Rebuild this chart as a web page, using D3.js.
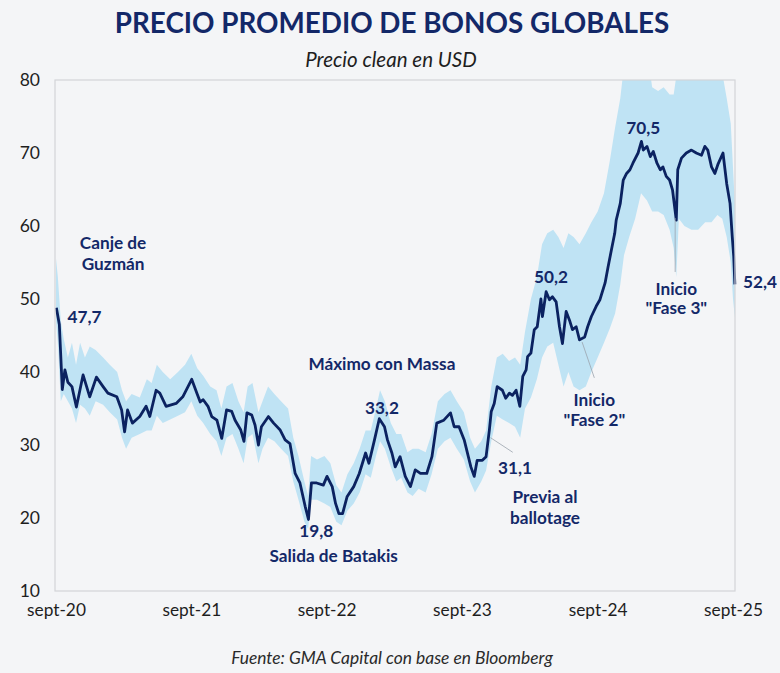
<!DOCTYPE html>
<html>
<head>
<meta charset="utf-8">
<script src="https://cdn.jsdelivr.net/npm/d3@7"></script>
<style>
  body { margin: 0; background: #f4f5f7; font-family: Lato, "Open Sans", sans-serif; }
</style>
</head>
<body>
<div id="container"></div>
<script>
/* CONSTANTS AND GLOBALS */
const width = 780,
  height = 673,
  margin = { top: 80, bottom: 82, left: 55, right: 45 }

const navy = "#132868"

/* DATA */
const fechas = [
  "2020-09-02", "2020-09-10", "2020-09-18", "2020-09-25", "2020-10-03", "2020-10-14", "2020-10-26", "2020-11-13",
  "2020-12-01", "2020-12-19", "2021-01-06", "2021-01-19", "2021-02-12", "2021-02-25", "2021-03-05", "2021-03-13",
  "2021-03-26", "2021-04-15", "2021-05-02", "2021-05-12", "2021-05-29", "2021-06-08", "2021-06-25", "2021-07-22",
  "2021-08-09", "2021-09-02", "2021-09-16", "2021-09-25", "2021-10-03", "2021-10-16", "2021-10-26", "2021-11-09",
  "2021-11-22", "2021-12-05", "2021-12-19", "2021-12-28", "2022-01-12", "2022-01-21", "2022-01-29", "2022-02-11",
  "2022-02-20", "2022-03-01", "2022-03-09", "2022-03-28", "2022-04-11", "2022-04-28", "2022-05-12", "2022-05-25",
  "2022-06-08", "2022-06-21", "2022-07-05", "2022-07-14", "2022-07-22", "2022-08-05", "2022-08-23", "2022-09-02",
  "2022-09-16", "2022-09-25", "2022-10-04", "2022-10-14", "2022-10-26", "2022-11-13", "2022-11-28", "2022-12-15",
  "2022-12-24", "2023-01-08", "2023-01-21", "2023-02-04", "2023-02-12", "2023-02-24", "2023-03-05", "2023-03-18",
  "2023-04-01", "2023-04-15", "2023-04-28", "2023-05-12", "2023-05-29", "2023-06-12", "2023-06-25", "2023-07-14",
  "2023-08-01", "2023-08-11", "2023-08-24", "2023-09-07", "2023-09-25", "2023-10-04", "2023-10-12", "2023-10-26",
  "2023-11-05", "2023-11-14", "2023-11-19", "2023-11-27", "2023-12-05", "2023-12-19", "2023-12-28", "2024-01-07",
  "2024-01-15", "2024-01-25", "2024-02-04", "2024-02-12", "2024-02-21", "2024-02-25", "2024-03-05", "2024-03-14",
  "2024-03-22", "2024-04-01", "2024-04-05", "2024-04-15", "2024-04-24", "2024-05-02", "2024-05-12", "2024-05-21",
  "2024-05-29", "2024-06-08", "2024-06-17", "2024-06-25", "2024-07-05", "2024-07-14", "2024-07-28", "2024-08-05",
  "2024-08-15", "2024-08-28", "2024-09-07", "2024-09-21", "2024-09-29", "2024-10-08", "2024-10-17", "2024-10-21",
  "2024-11-01", "2024-11-09", "2024-11-18", "2024-11-27", "2024-12-05", "2024-12-19", "2024-12-28", "2025-01-02",
  "2025-01-12", "2025-01-21", "2025-01-29", "2025-02-08", "2025-02-17", "2025-02-24", "2025-03-05", "2025-03-14",
  "2025-03-22", "2025-04-01", "2025-04-05", "2025-04-15", "2025-04-28", "2025-05-12", "2025-05-25", "2025-06-08",
  "2025-06-17", "2025-06-25", "2025-07-05", "2025-07-14", "2025-07-22", "2025-08-05", "2025-08-15", "2025-08-24",
  "2025-08-30", "2025-09-03", "2025-09-06"
]

const precio = [
  48.8, 46.5, 37.6, 40.3, 38.6, 38.0, 35.2, 39.6,
  36.6, 39.3, 38.0, 37.1, 36.6, 34.8, 31.8, 34.8,
  33.0, 33.9, 35.3, 33.9, 37.5, 37.1, 35.3, 35.7,
  36.6, 39.0, 37.1, 35.9, 36.2, 35.3, 33.9, 33.4,
  30.9, 34.8, 34.6, 33.4, 32.1, 30.5, 34.4, 34.1,
  32.7, 30.0, 32.5, 33.9, 33.0, 32.1, 30.7, 30.2,
  26.1, 24.8, 21.6, 19.8, 24.8, 24.8, 24.5, 25.7,
  24.3, 22.0, 20.6, 20.6, 22.9, 24.3, 26.1, 28.9,
  27.5, 30.7, 33.6, 32.5, 30.7, 28.9, 27.0, 28.4,
  25.7, 24.3, 26.6, 26.1, 26.1, 28.4, 33.0, 33.4,
  34.4, 32.5, 32.5, 30.7, 27.0, 25.7, 27.9, 27.9,
  28.4, 32.1, 34.6, 35.7, 38.0, 37.5, 36.4, 37.1,
  36.8, 37.5, 35.3, 39.4, 40.3, 42.1, 42.6, 45.8,
  46.2, 50.0, 47.6, 51.0, 49.9, 50.3, 49.6, 46.2,
  43.9, 48.3, 47.1, 45.8, 46.2, 44.4, 44.8, 46.2,
  47.6, 49.0, 49.9, 52.2, 54.4, 56.7, 59.0, 60.8,
  63.1, 66.3, 67.2, 67.7, 68.6, 70.0, 71.6, 70.4,
  70.9, 69.5, 70.2, 68.6, 67.7, 68.1, 66.8, 66.3,
  64.9, 60.8, 67.7, 69.3, 70.0, 70.4, 70.0, 69.7,
  70.9, 70.4, 68.1, 67.2, 68.4, 70.0, 65.8, 63.1,
  58.5, 55.8, 52.0
]

// rango de precios (banda celeste)
const bandaFechas = [
  "2020-09-01", "2020-09-06", "2020-09-14", "2020-09-22", "2020-10-03", "2020-10-14", "2020-10-25", "2020-11-05",
  "2020-11-18", "2020-12-01", "2020-12-17", "2021-01-06", "2021-01-24", "2021-02-13", "2021-02-26", "2021-03-09",
  "2021-03-24", "2021-04-15", "2021-05-04", "2021-05-17", "2021-05-31", "2021-06-16", "2021-07-06", "2021-07-27",
  "2021-08-15", "2021-09-01", "2021-09-17", "2021-10-03", "2021-10-22", "2021-11-08", "2021-11-21", "2021-12-05",
  "2021-12-21", "2022-01-06", "2022-01-20", "2022-01-31", "2022-02-13", "2022-03-01", "2022-03-12", "2022-03-27",
  "2022-04-13", "2022-05-01", "2022-05-20", "2022-06-03", "2022-06-17", "2022-07-03", "2022-07-13", "2022-07-21",
  "2022-08-06", "2022-08-26", "2022-09-11", "2022-09-27", "2022-10-11", "2022-10-27", "2022-11-13", "2022-11-29",
  "2022-12-15", "2022-12-29", "2023-01-12", "2023-01-23", "2023-02-05", "2023-02-21", "2023-03-08", "2023-03-21",
  "2023-04-07", "2023-04-21", "2023-05-07", "2023-05-26", "2023-06-11", "2023-06-28", "2023-07-16", "2023-08-01",
  "2023-08-18", "2023-09-06", "2023-09-23", "2023-10-06", "2023-10-23", "2023-11-05", "2023-11-19", "2023-12-04",
  "2023-12-20", "2024-01-06", "2024-01-22", "2024-02-05", "2024-02-18", "2024-03-05", "2024-03-21", "2024-04-04",
  "2024-04-18", "2024-05-04", "2024-05-18", "2024-06-01", "2024-06-14", "2024-06-28", "2024-07-14", "2024-07-31",
  "2024-08-15", "2024-09-01", "2024-09-18", "2024-10-04", "2024-10-18", "2024-11-01", "2024-11-11", "2024-11-25",
  "2024-12-11", "2024-12-27", "2025-01-12", "2025-01-26", "2025-02-11", "2025-02-26", "2025-03-14", "2025-03-25",
  "2025-04-01", "2025-04-08", "2025-04-23", "2025-05-12", "2025-05-30", "2025-06-18", "2025-07-05", "2025-07-21",
  "2025-08-03", "2025-08-15", "2025-08-26", "2025-09-01", "2025-09-06"
]

const bandaMax = [
  55.5, 53.0, 47.0, 44.5, 42.0, 44.0, 41.0, 44.0,
  42.0, 43.5, 43.0, 42.0, 41.0, 40.0, 37.5, 36.0,
  37.0, 36.5, 39.0, 38.5, 41.0, 40.0, 39.0, 40.0,
  41.0, 42.5, 40.5, 39.5, 38.0, 37.5, 35.0, 38.0,
  38.5, 36.0, 34.5, 38.0, 38.5, 34.5, 36.0, 38.0,
  37.0, 36.0, 35.0, 31.0, 28.5, 25.0, 23.0, 28.5,
  28.0, 28.5, 27.5, 24.5, 23.5, 26.0, 27.5, 29.5,
  32.0, 32.0, 35.0, 37.5, 36.0, 33.0, 31.5, 31.5,
  29.0, 29.5, 29.5, 29.0, 31.5, 36.0, 37.0, 37.5,
  36.0, 34.5, 31.0, 29.5, 30.5, 32.0, 38.0, 42.0,
  42.5, 41.5, 42.0, 41.0, 45.5, 50.0, 53.0, 57.5,
  59.0, 59.5, 58.5, 57.0, 59.0, 58.5, 57.5, 59.0,
  60.5, 62.0, 64.5, 69.0, 73.5, 77.5, 82.0, 84.0,
  85.0, 85.0, 84.0, 79.0, 78.5, 79.0, 78.0, 78.0,
  80.5, 85.0, 86.0, 86.0, 86.0, 86.0, 85.0, 84.0,
  81.0, 77.5, 74.0, 68.0, 63.0
]

const bandaMin = [
  47.0, 44.0, 36.0, 37.0, 36.0, 35.0, 33.0, 35.5,
  35.0, 34.0, 36.0, 35.5, 34.5, 33.5, 31.0, 29.5,
  31.0, 31.5, 32.0, 32.0, 34.0, 33.0, 33.5, 34.0,
  34.5, 36.0, 34.0, 33.0, 31.5, 30.5, 28.5, 31.0,
  31.5, 29.5, 27.5, 31.0, 31.5, 27.5, 29.5, 31.0,
  30.5, 29.5, 28.5, 25.0, 22.5, 19.5, 18.5, 22.5,
  22.5, 22.0, 21.5, 19.5, 19.0, 21.0, 22.0, 23.5,
  26.0, 25.5, 28.5, 30.5, 29.5, 27.0, 25.0, 25.5,
  23.5, 23.0, 24.0, 23.5, 26.0, 29.5, 30.5, 31.0,
  29.5, 28.0, 25.0, 23.5, 25.0, 26.5, 30.5, 34.0,
  33.5, 33.0, 32.5, 31.0, 35.0, 36.5, 39.0, 42.0,
  43.5, 44.0, 41.0, 38.0, 40.0, 38.0, 37.5, 38.0,
  40.0, 42.0, 44.0, 46.0, 48.0, 52.0, 56.0, 58.5,
  61.0, 64.5, 63.5, 62.0, 62.0, 61.5, 59.5, 57.0,
  53.0, 61.0, 60.0, 59.5, 59.5, 60.5, 60.5, 61.5,
  61.0, 58.5, 55.0, 50.0, 47.5
]

const ticksX = ["sept-20", "sept-21", "sept-22", "sept-23", "sept-24", "sept-25"]
const ticksXFechas = ["2020-09-01", "2021-09-01", "2022-09-01", "2023-09-01", "2024-09-01", "2025-09-01"]
const ticksY = [10, 20, 30, 40, 50, 60, 70, 80]

// textos de anotaciones: fecha y valor donde se ubica el texto
const notas = [
  { texto: "Canje de", fecha: "2021-02-02", valor: 57.7, anchor: "middle" },
  { texto: "Guzmán", fecha: "2021-02-02", valor: 54.8, anchor: "middle" },
  { texto: "47,7", fecha: "2020-10-02", valor: 47.5, anchor: "start" },
  { texto: "Máximo con Massa", fecha: "2023-01-28", valor: 41.1, anchor: "middle" },
  { texto: "33,2", fecha: "2023-01-28", valor: 35.1, anchor: "middle" },
  { texto: "19,8", fecha: "2022-08-04", valor: 18.2, anchor: "middle" },
  { texto: "Salida de Batakis", fecha: "2022-09-20", valor: 14.8, anchor: "middle" },
  { texto: "31,1", fecha: "2024-01-22", valor: 26.8, anchor: "middle" },
  { texto: "Previa al", fecha: "2024-04-12", valor: 22.9, anchor: "middle" },
  { texto: "ballotage", fecha: "2024-04-12", valor: 20.0, anchor: "middle" },
  { texto: "50,2", fecha: "2024-04-28", valor: 53.0, anchor: "middle" },
  { texto: "Inicio", fecha: "2024-08-23", valor: 36.2, anchor: "middle" },
  { texto: "\"Fase 2\"", fecha: "2024-08-23", valor: 33.4, anchor: "middle" },
  { texto: "70,5", fecha: "2025-01-02", valor: 73.4, anchor: "middle" },
  { texto: "Inicio", fecha: "2025-04-01", valor: 51.4, anchor: "middle" },
  { texto: "\"Fase 3\"", fecha: "2025-04-01", valor: 48.8, anchor: "middle" },
  { texto: "52,4", fecha: "2025-09-28", valor: 52.3, anchor: "start" }
]

const guias = [
  { f1: "2023-11-17", v1: 31.0, f2: "2024-01-16", v2: 29.0 },
  { f1: "2024-07-21", v1: 44.1, f2: "2024-08-23", v2: 39.2 },
  { f1: "2025-03-29", v1: 61.1, f2: "2025-03-29", v2: 53.7 }
]

const parse = d3.timeParse("%Y-%m-%d")

const serie = fechas.map((f, i) => ({ date: parse(f), value: precio[i] }))
const banda = bandaFechas.map((f, i) => ({ date: parse(f), hi: bandaMax[i], lo: bandaMin[i] }))

// // SCALES
const xScale = d3.scaleTime()
  .domain([parse("2020-09-01"), parse("2025-09-01")])
  .range([margin.left + 1, width - margin.right - 2])

const yScale = d3.scaleLinear()
  .domain([10, 80])
  .range([height - margin.bottom, margin.top])

// // CREATE SVG ELEMENT
const svg = d3.select("#container")
  .append("svg")
  .attr("width", width)
  .attr("height", height)
  .style("background", "#f4f5f7")

svg.append("defs").append("clipPath")
  .attr("id", "plot")
  .append("rect")
  .attr("x", margin.left)
  .attr("y", margin.top)
  .attr("width", width - margin.left - margin.right)
  .attr("height", height - margin.top - margin.bottom)

// TITLES
svg.append("text")
  .attr("x", 392)
  .attr("y", 33)
  .attr("text-anchor", "middle")
  .attr("font-family", "Lato")
  .attr("font-weight", 700)
  .attr("font-size", 27.8)
  .attr("fill", navy)
  .text("PRECIO PROMEDIO DE BONOS GLOBALES")

svg.append("text")
  .attr("x", 391)
  .attr("y", 67)
  .attr("text-anchor", "middle")
  .attr("font-family", "Lato")
  .attr("font-style", "italic")
  .attr("font-size", 20.5)
  .attr("fill", "#1e1e1e")
  .text("Precio clean en USD")

svg.append("text")
  .attr("x", 392)
  .attr("y", 664)
  .attr("text-anchor", "middle")
  .attr("font-family", "Lato")
  .attr("font-style", "italic")
  .attr("font-size", 17.4)
  .attr("fill", "#2a2a2a")
  .text("Fuente: GMA Capital con base en Bloomberg")

// // BAND AND LINE
const areaGen = d3.area()
  .x(d => xScale(d.date))
  .y0(d => yScale(d.lo))
  .y1(d => yScale(d.hi))

svg.append("path")
  .attr("clip-path", "url(#plot)")
  .attr("fill", "#bfe3f4")
  .attr("d", areaGen(banda))

const lineGen = d3.line()
  .x(d => xScale(d.date))
  .y(d => yScale(d.value))

svg.append("path")
  .attr("fill", "none")
  .attr("stroke", "#0b2260")
  .attr("stroke-width", 2.8)
  .attr("stroke-linejoin", "round")
  .attr("d", lineGen(serie))

// frame
svg.append("rect")
  .attr("x", margin.left)
  .attr("y", margin.top)
  .attr("width", width - margin.left - margin.right)
  .attr("height", height - margin.top - margin.bottom)
  .attr("fill", "none")
  .attr("stroke", "#d2d4d8")
  .attr("stroke-width", 1.2)

// // AXES
const yAxis = d3.axisLeft(yScale)
  .tickValues(ticksY)
  .tickSize(0)
  .tickPadding(15)

svg.append("g")
  .attr("transform", `translate(${margin.left}, 0)`)
  .call(yAxis)
  .call(g => g.select(".domain").remove())
  .selectAll("text")
  .attr("font-family", "Lato")
  .attr("font-size", 17.5)
  .attr("fill", "#1e1e1e")

const xAxis = d3.axisBottom(xScale)
  .tickValues(ticksXFechas.map(parse))
  .tickFormat((d, i) => ticksX[i])
  .tickSize(0)
  .tickPadding(13)

svg.append("g")
  .attr("transform", `translate(0, ${height - margin.bottom})`)
  .call(xAxis)
  .call(g => g.select(".domain").remove())
  .selectAll("text")
  .attr("font-family", "Lato")
  .attr("font-size", 17.3)
  .attr("fill", "#1e1e1e")

// // ANNOTATIONS
svg.selectAll(".guia")
  .data(guias)
  .join("line")
  .attr("class", "guia")
  .attr("x1", d => xScale(parse(d.f1)))
  .attr("y1", d => yScale(d.v1))
  .attr("x2", d => xScale(parse(d.f2)))
  .attr("y2", d => yScale(d.v2))
  .attr("stroke", "#9aa3ad")
  .attr("stroke-width", 0.8)

svg.selectAll(".nota")
  .data(notas)
  .join("text")
  .attr("class", "nota")
  .attr("x", d => xScale(parse(d.fecha)))
  .attr("y", d => yScale(d.valor))
  .attr("dy", "0.35em")
  .attr("text-anchor", d => d.anchor)
  .attr("font-family", "Lato")
  .attr("font-weight", 700)
  .attr("font-size", 17.2)
  .attr("fill", navy)
  .text(d => d.texto)
</script>
</body>
</html>
